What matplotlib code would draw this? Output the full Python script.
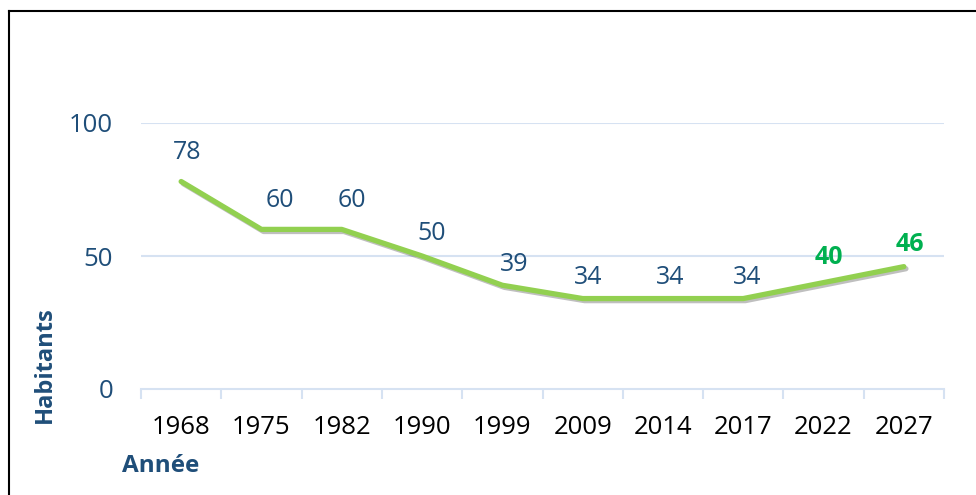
import matplotlib
matplotlib.use("Agg")
import matplotlib.pyplot as plt
import matplotlib.patheffects as pe
from matplotlib.lines import Line2D

years = ["1968", "1975", "1982", "1990", "1999", "2009", "2014", "2017", "2022", "2027"]
habitants = [78, 60, 60, 50, 39, 34, 34, 34, 40, 46]
projected = [False, False, False, False, False, False, False, False, True, True]
y_ticks = [0, 50, 100]

# label offsets in pixels (dx right, dy up) - style only
label_dx = [6, 18, 10, 10, 12, 6, 7, 4, 5, 6]
label_dy = [29, 29, 29, 23, 21, 21, 21, 21, 25, 22]

plt.rcParams['font.family'] = ['Open Sans', 'DejaVu Sans']

W, H = 976, 495
fig = plt.figure(figsize=(W / 100, H / 100), dpi=100)
ax = fig.add_axes([141 / W, (H - 389) / H, (944 - 141) / W, (389 - 123) / H])

blue = "#1F4E79"
green_line = "#92D050"
green_txt = "#00B050"
grid_c = "#D6E2F2"

x = list(range(len(years)))
ax.plot(x, habitants, color=green_line, lw=3.8, solid_capstyle="round",
        solid_joinstyle="round", clip_on=False,
        path_effects=[pe.SimpleLineShadow(offset=(1.5, -1.5), alpha=0.25, shadow_color="black"),
                      pe.Normal()])

for xi, v, p, dx, dy in zip(x, habitants, projected, label_dx, label_dy):
    ax.annotate(str(v), (xi, v), xytext=(dx * 0.72, dy * 0.72), textcoords="offset points",
                ha="center", va="center", fontsize=18,
                fontweight="bold" if p else "normal",
                color=green_txt if p else blue)

ax.set_xlim(-0.5, len(years) - 0.5)
ax.set_ylim(0, 100)
ax.set_yticks(y_ticks)
ax.set_yticklabels([str(t) for t in y_ticks], fontsize=18.5, color=blue)
ax.tick_params(axis="y", length=0, pad=20)
ax.set_xticks(x)
ax.set_xticklabels(years, fontsize=18.5, color="black")
ax.tick_params(axis="x", length=0, pad=19)
# boundary tick marks
ax.set_xticks([i - 0.5 for i in range(len(years) + 1)], minor=True)
ax.tick_params(axis="x", which="minor", length=7, width=1.5, color=grid_c, direction="out")

for s in ["top", "right", "left"]:
    ax.spines[s].set_visible(False)
ax.spines["bottom"].set_color(grid_c)
ax.spines["bottom"].set_linewidth(1.5)
for t in y_ticks[1:]:
    ax.axhline(t, color=grid_c, lw=1.5, zorder=0)

fig.text(45 / W, 1 - 365 / H, "Habitants", rotation=90, ha="center", va="center",
         fontsize=17, fontweight="bold", color=blue)
fig.text(161 / W, 1 - 466 / H, "Année", ha="center", va="center",
         fontsize=17.5, fontweight="bold", color=blue)

# frame lines: top and left
fig.add_artist(Line2D([9 / W, 1], [1 - 11 / H, 1 - 11 / H], color="black", lw=1.5,
                      transform=fig.transFigure))
fig.add_artist(Line2D([9 / W, 9 / W], [0, 1 - 11 / H], color="black", lw=1.5,
                      transform=fig.transFigure))

fig.savefig("out.png", dpi=100)
